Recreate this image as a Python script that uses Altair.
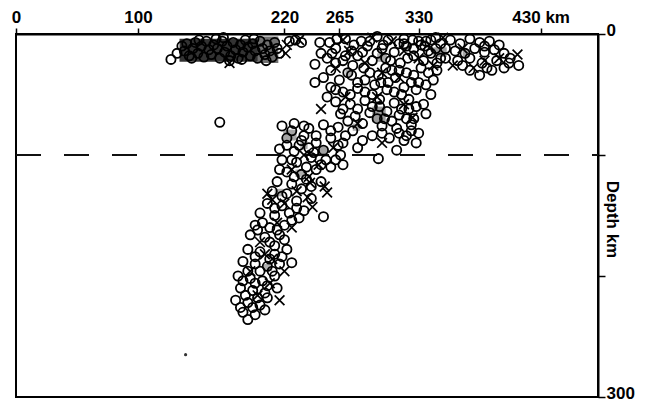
import altair as alt
import pandas as pd

# ---- data (distance along profile in km, depth in km) ----
x_tick_values = [0, 100, 220, 265, 330, 430]
depth_tick_values = [0, 100, 200, 300]
reference_depth = [100]

circles_shallow_west = [
    (132, 16), (136, 10), (138, 14), (140, 8), (142, 18), (145, 12), (147, 7), (149, 16),
    (152, 10), (154, 19), (156, 6), (158, 13), (160, 17), (162, 9), (165, 12), (167, 20),
    (169, 6), (171, 15), (173, 10), (176, 18), (178, 7), (180, 13), (182, 20), (184, 9),
    (186, 15), (188, 5), (190, 11), (192, 18), (194, 8), (196, 14), (198, 20), (200, 6),
    (202, 12), (204, 17), (206, 9), (208, 14), (210, 19), (212, 7), (214, 12), (216, 16),
    (144, 20), (150, 5), (164, 4), (175, 22), (185, 21), (195, 4), (205, 22), (170, 3),
    (127, 21), (167, 73),
]
circles_upper = [
    (224, 6), (229, 5), (234, 7), (249, 7), (257, 7), (270, 4), (283, 6), (296, 2),
    (305, 5), (314, 8), (262, 12), (275, 14), (288, 10), (300, 12), (310, 15), (320, 10),
    (330, 6), (340, 5), (255, 20), (268, 22), (280, 18), (292, 22), (303, 20), (315, 24),
    (326, 18), (338, 14), (348, 20), (258, 30), (272, 32), (285, 28), (297, 34), (308, 30),
    (320, 32), (332, 28), (345, 30), (250, 16), (245, 25), (265, 38), (280, 40), (294, 42),
    (305, 40), (318, 44), (330, 40), (342, 38),
    (263, 4), (277, 9), (290, 6), (301, 9), (318, 4), (326, 12), (335, 10), (344, 12),
    (259, 16), (270, 18), (284, 15), (296, 16), (307, 22), (321, 20), (334, 22), (252, 36),
    (262, 24), (276, 26), (290, 32), (303, 28), (314, 30), (326, 34), (338, 32), (286, 38),
    (299, 40), (311, 36), (324, 40), (336, 42), (275, 34),
]
circles_east = [
    (318, 8), (325, 5), (332, 9), (348, 8), (356, 5), (364, 8), (372, 4), (380, 7),
    (388, 6), (360, 14), (368, 16), (376, 12), (384, 15), (392, 13), (400, 16), (352, 20),
    (362, 22), (372, 20), (382, 24), (394, 22), (405, 20), (390, 30), (400, 28), (412, 26),
    (340, 16), (345, 24), (372, 30), (380, 34),
    (336, 6), (344, 3), (352, 12), (384, 10), (396, 9), (404, 24), (366, 26), (386, 28),
]
circles_mid = [
    (258, 44), (268, 48), (280, 45), (292, 50), (304, 46), (316, 50), (328, 46), (262, 56),
    (274, 58), (286, 55), (298, 60), (310, 57), (322, 62), (334, 58), (266, 66), (278, 68),
    (290, 65), (302, 70), (314, 67), (326, 70), (336, 66), (255, 52), (245, 40), (340, 50),
    (218, 76), (228, 74), (240, 78), (252, 75), (264, 77), (300, 76), (312, 78), (324, 75),
    (330, 82), (222, 86), (234, 88), (246, 84), (258, 86), (270, 84), (306, 86), (318, 88),
    (328, 90), (216, 95), (228, 97), (240, 94), (252, 96), (264, 92), (276, 80), (284, 88),
    (292, 84), (312, 96), (320, 84), (297, 103),
    (262, 46), (274, 50), (286, 48), (298, 54), (310, 48), (322, 54), (268, 62), (280, 62),
    (292, 60), (304, 64), (316, 62), (328, 60), (272, 72), (284, 74), (296, 70), (308, 72),
    (320, 70), (226, 80), (236, 84), (246, 90), (258, 80), (268, 90), (280, 94), (232, 92),
    (244, 98), (222, 92), (300, 82), (314, 82), (324, 80), (236, 76),
]
circles_slab = [
    (218, 104), (230, 106), (242, 102), (254, 104), (266, 100), (222, 114), (234, 116),
    (246, 112), (258, 110), (268, 108), (214, 122), (226, 124), (238, 120), (250, 122),
    (210, 130), (222, 132), (234, 128), (206, 140), (218, 142), (230, 138), (242, 136),
    (200, 148), (212, 150), (224, 148), (236, 146), (252, 151), (196, 158), (208, 160),
    (220, 158), (192, 166), (204, 168), (216, 166), (212, 175),
    (226, 104), (238, 110), (250, 108), (262, 104), (216, 112), (228, 118), (242, 126),
    (218, 134), (230, 144), (212, 144), (202, 156), (214, 162), (226, 154), (198, 162),
    (208, 172), (220, 170), (232, 152),
]
circles_deep = [
    (190, 178), (200, 180), (212, 182), (222, 178), (226, 189), (186, 188), (196, 190),
    (206, 192), (216, 190), (182, 200), (192, 202), (202, 204), (212, 200), (184, 210),
    (194, 212), (204, 214), (214, 210), (180, 220), (190, 222), (200, 224), (186, 230),
    (196, 232), (190, 236), (206, 218),
    (196, 184), (208, 186), (218, 184), (190, 196), (200, 196), (210, 196), (186, 204),
    (196, 206), (206, 208), (188, 216), (198, 218), (184, 226), (194, 226), (204, 228),
]
crosses = [
    (175, 24), (222, 9), (221, 16), (232, 5), (268, 5), (292, 3), (308, 6), (273, 14),
    (318, 14), (262, 28), (286, 24), (300, 32), (314, 36), (330, 20), (350, 3), (366, 12),
    (384, 22), (396, 20), (411, 17), (342, 26), (358, 26), (375, 28), (325, 69), (270, 52),
    (296, 52), (318, 58), (250, 62), (280, 74), (300, 90), (260, 94), (236, 100), (248, 108),
    (226, 112), (240, 118), (255, 131), (241, 123), (243, 143), (206, 132), (210, 137),
    (239, 135), (253, 126), (230, 130), (220, 140), (214, 156), (226, 160), (200, 172),
    (210, 186), (220, 196), (192, 196), (208, 206), (198, 216), (216, 220), (204, 182),
]
isolated_dot = [(139, 265)]

# shaded (dense) areas: km from, km to, depth from, depth to, grey
shade_km0 = [134, 198, 292, 276, 219, 233, 247, 229, 212, 296, 270, 342, 366, 203, 213]
shade_km1 = [200, 215, 303, 282, 230, 239, 255, 236, 219, 304, 275, 353, 372, 210, 219]
shade_d0 = [4, 2, 60, 74, 79, 88, 93, 112, 128, 16, 29, 11, 13, 190, 128]
shade_d1 = [23, 24, 73, 80, 88, 95, 101, 118, 134, 23, 35, 19, 19, 196, 134]
shade_grey = ["#333333", "#707070", "#9a9a9a", "#aaaaaa", "#a5a5a5", "#aaaaaa", "#a0a0a0",
              "#b0b0b0", "#b0b0b0", "#a8a8a8", "#b0b0b0", "#a0a0a0", "#a8a8a8", "#b0b0b0",
              "#b0b0b0"]


def frame(points):
    return pd.DataFrame(points, columns=["km", "depth"])


circles_df = frame(circles_shallow_west + circles_upper + circles_east + circles_mid
                   + circles_slab + circles_deep)
crosses_df = frame(crosses)
dot_df = frame(isolated_dot)
shade_df = pd.DataFrame({"km0": shade_km0, "km1": shade_km1, "d0": shade_d0,
                         "d1": shade_d1, "grey": shade_grey})
ref_df = pd.DataFrame({"depth": reference_depth})

W, H = 582, 363
FONT = "Liberation Sans"
xs = alt.Scale(domain=[0, 477], nice=False, zero=False)
ys = alt.Scale(domain=[0, 300], reverse=True, nice=False, zero=False)

x_axis = alt.Axis(
    orient="top", values=x_tick_values, title=None, grid=False,
    labelExpr="datum.value == 430 ? '430 km' : datum.label",
    labelFont=FONT, labelFontSize=17, labelFontWeight="bold", labelColor="black",
    labelFlush=False, labelPadding=2, labelOverlap=False,
    tickSize=6, tickWidth=1.5, tickColor="black", domainColor="black", domainWidth=2,
)
y_axis = alt.Axis(
    orient="right", values=depth_tick_values, grid=False,
    labelExpr="datum.value == 0 || datum.value == 300 ? datum.label : ''",
    labelFont=FONT, labelFontSize=17, labelFontWeight="bold", labelColor="black",
    labelBaseline="middle", labelOffset=-4, labelPadding=1, labelFlush=False,
    tickSize=7, tickWidth=1.5, tickColor="black", domainColor="black", domainWidth=2,
    title="Depth km", titleFont=FONT, titleFontSize=17, titleFontWeight="bold",
    titleColor="black", titleAngle=90, titleX=13, titleY=185, titleAlign="center",
    titleBaseline="middle",
)

shade = alt.Chart(shade_df).mark_rect(opacity=1).encode(
    x=alt.X("km0:Q", scale=xs, axis=x_axis),
    x2="km1:Q",
    y=alt.Y("d0:Q", scale=ys, axis=y_axis),
    y2="d1:Q",
    color=alt.Color("grey:N", scale=None),
)

ref_line = alt.Chart(ref_df).mark_rule(
    color="#111111", strokeWidth=2, strokeDash=[25, 23]
).encode(
    y=alt.Y("depth:Q", scale=ys, axis=y_axis),
    x=alt.value(0), x2=alt.value(W),
)

circles = alt.Chart(circles_df).mark_point(
    shape="circle", filled=False, color="black", size=85, strokeWidth=1.8, opacity=1
).encode(
    x=alt.X("km:Q", scale=xs, axis=x_axis),
    y=alt.Y("depth:Q", scale=ys, axis=y_axis),
)

xs_marks = alt.Chart(crosses_df).mark_point(
    shape="M-1,-1L1,1M-1,1L1,-1", filled=False, color="black", size=95,
    strokeWidth=1.7, opacity=1
).encode(
    x=alt.X("km:Q", scale=xs, axis=x_axis),
    y=alt.Y("depth:Q", scale=ys, axis=y_axis),
)

dot = alt.Chart(dot_df).mark_point(
    shape="circle", filled=True, color="#333333", size=10, opacity=1
).encode(
    x=alt.X("km:Q", scale=xs, axis=x_axis),
    y=alt.Y("depth:Q", scale=ys, axis=y_axis),
)

chart = alt.layer(shade, ref_line, circles, xs_marks, dot).properties(
    width=W, height=H,
    autosize=alt.AutoSizeParams(type="none"),
    padding={"left": 16, "top": 34, "right": 48, "bottom": 4},
    background="white",
).configure_view(stroke="black", strokeWidth=2)

chart.save("out.html", embed_options={"renderer": "svg", "actions": False})
